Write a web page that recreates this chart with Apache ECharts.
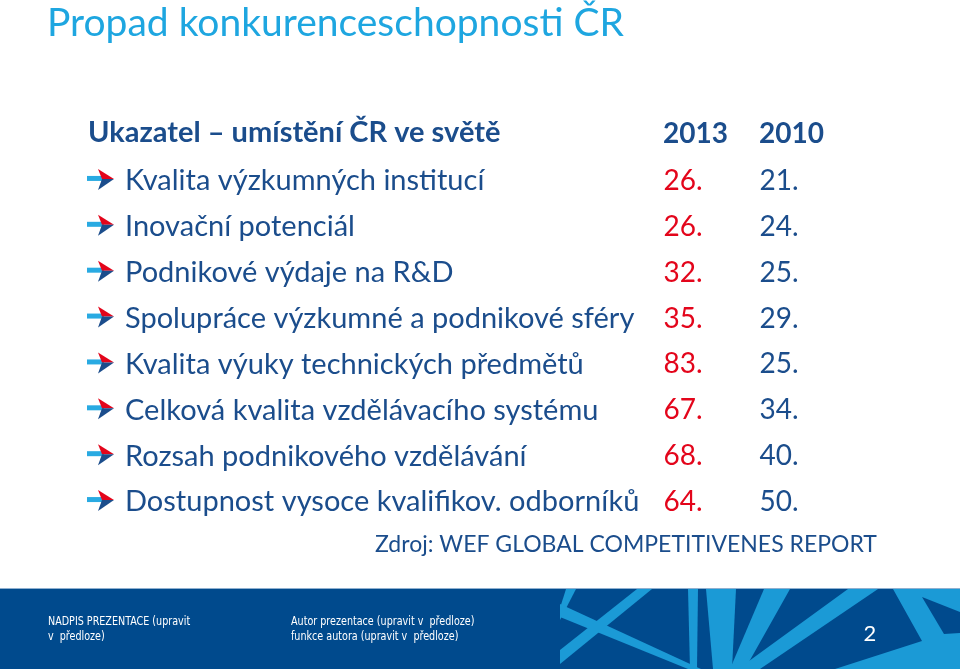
<!DOCTYPE html>
<html>
<head>
<meta charset="utf-8">
<script src="https://cdn.jsdelivr.net/npm/echarts@6/dist/echarts.min.js"></script>
<style>
html,body{margin:0;padding:0;background:#fff;}
#chart{width:960px;height:669px;}
</style>
</head>
<body>
<div id="chart"></div>
<script>
// ---- data ----
const titleText = 'Propad konkurenceschopnosti ČR';
const headerText = 'Ukazatel – umístění ČR ve světě';
const sourceText = 'Zdroj: WEF GLOBAL COMPETITIVENES REPORT';
const years = ['2013', '2010'];
const indicators = [
  'Kvalita výzkumných institucí',
  'Inovační potenciál',
  'Podnikové výdaje na R&D',
  'Spolupráce výzkumné a podnikové sféry',
  'Kvalita výuky technických předmětů',
  'Celková kvalita vzdělávacího systému',
  'Rozsah podnikového vzdělávání',
  'Dostupnost vysoce kvalifikov. odborníků'
];
const rank2013 = [26, 26, 32, 35, 83, 67, 68, 64];
const rank2010 = [21, 24, 25, 29, 25, 34, 40, 50];
const footerLeft = ['NADPIS PREZENTACE (upravit', 'v  předloze)'];
const footerMid = ['Autor prezentace (upravit v  předloze)', 'funkce autora (upravit v  předloze)'];
const pageNo = '2';

// ---- style ----
const FONT = 'Lato, "Open Sans", sans-serif';
const DARK = '#1b4d8c';
const RED = '#e3051b';
const LIGHT = '#1ea6e0';
const FOOT = '#004a8d';
const STRIPE = '#1b9ad6';
const GRID_LEFT = 615, LABEL_X = 125;

const chart = echarts.init(document.getElementById('chart'), null, {renderer: 'canvas'});

function rankSeries(arr, col, color) {
  return {
    type: 'scatter',
    symbolSize: 1,
    itemStyle: {color: 'transparent', opacity: 1},
    silent: true,
    data: arr.map((v, i) => [col, i, v]),
    label: {
      show: true, position: 'right', distance: 0, opacity: 1,
      formatter: p => p.value[2] + '.',
      color: color, fontSize: 28, fontFamily: FONT
    }
  };
}

const stripes = [
  [[566,589],[576,589],[560,620],[560,608]],
  [[560,604],[560,617],[688,669],[701,669]],
  [[637,589],[652,589],[560,664],[560,650]],
  [[688,589],[698,589],[697,669],[690,669]],
  [[706,589],[736,589],[732,669],[713,669]],
  [[764,589],[790,589],[745,669],[730,669]],
  [[848,589],[878,589],[760,669],[738,669]],
  [[893,589],[960,589],[960,669],[835,669],[922,641]]
];

const graphics = [
  {type: 'rect', shape: {x: 0, y: 589, width: 960, height: 80}, style: {fill: FOOT}, z: 1},
  {type: 'rect', shape: {x: 0, y: 588, width: 960, height: 1}, style: {fill: '#8fb0d0'}, z: 1}
];
stripes.forEach(pts => graphics.push({type: 'polygon', shape: {points: pts}, style: {fill: STRIPE}, z: 2}));
graphics.push({type: 'polygon', shape: {points: [[922,597],[960,612],[960,633],[944,634]]}, style: {fill: FOOT}, z: 3});
const smallFont = '"Liberation Sans Narrow", "DejaVu Sans Condensed", sans-serif';
footerLeft.forEach((t, i) => graphics.push({type: 'text', x: 48, y: 622 + i * 15, scaleX: 0.82, style: {text: t, fill: '#fff', font: '13px ' + smallFont, textVerticalAlign: 'middle'}, z: 4}));
footerMid.forEach((t, i) => graphics.push({type: 'text', x: 291, y: 622 + i * 15, scaleX: 0.82, style: {text: t, fill: '#fff', font: '13px ' + smallFont, textVerticalAlign: 'middle'}, z: 4}));
graphics.push({type: 'text', x: 870, y: 634, style: {text: pageNo, fill: '#fff', font: '22px ' + FONT, textAlign: 'center', textVerticalAlign: 'middle'}, z: 4});

const option = {
  backgroundColor: '#ffffff',
  animation: false,
  title: [
    {text: titleText, left: 47, top: 4, padding: 0, textStyle: {fontSize: 39, fontWeight: 'normal', color: LIGHT, fontFamily: FONT}},
    {text: headerText, left: 88, top: 118, padding: 0, textStyle: {fontSize: 29, fontWeight: 'bold', color: DARK, fontFamily: FONT}},
    {text: sourceText, left: 375, top: 533, padding: 0, textStyle: {fontSize: 23, fontWeight: 'normal', color: DARK, fontFamily: FONT}}
  ],
  grid: {left: GRID_LEFT, right: 153, top: 158, bottom: 144, outerBoundsMode: 'none'},
  xAxis: {
    type: 'category', data: years, position: 'top',
    axisLine: {show: false}, axisTick: {show: false}, splitLine: {show: false},
    axisLabel: {align: 'left', margin: 10, fontSize: 28, fontWeight: 'bold', color: DARK, fontFamily: FONT}
  },
  yAxis: {
    type: 'category', data: indicators, inverse: true,
    axisLine: {show: false}, axisTick: {show: false}, splitLine: {show: false},
    axisLabel: {align: 'left', margin: GRID_LEFT - LABEL_X, fontSize: 29, color: DARK, fontFamily: FONT}
  },
  series: [
    {
      type: 'custom', silent: true, clip: false,
      data: indicators.map((_, i) => [0, i]),
      renderItem: (params, api) => {
        const cy = api.coord([0, api.value(1)])[1];
        const x = LABEL_X;
        return {
          type: 'group',
          children: [
            {type: 'rect', shape: {x: x - 38, y: cy - 5, width: 17, height: 5}, style: {fill: '#29aae2'}},
            {type: 'polygon', shape: {points: [[x - 27, cy - 12], [x - 11, cy - 2], [x - 23, cy - 2]]}, style: {fill: RED}},
            {type: 'polygon', shape: {points: [[x - 23, cy - 2], [x - 11, cy - 2], [x - 27, cy + 9]]}, style: {fill: DARK}}
          ]
        };
      }
    },
    rankSeries(rank2013, 0, RED),
    rankSeries(rank2010, 1, DARK)
  ],
  graphic: graphics
};
chart.setOption(option);
</script>
</body>
</html>
